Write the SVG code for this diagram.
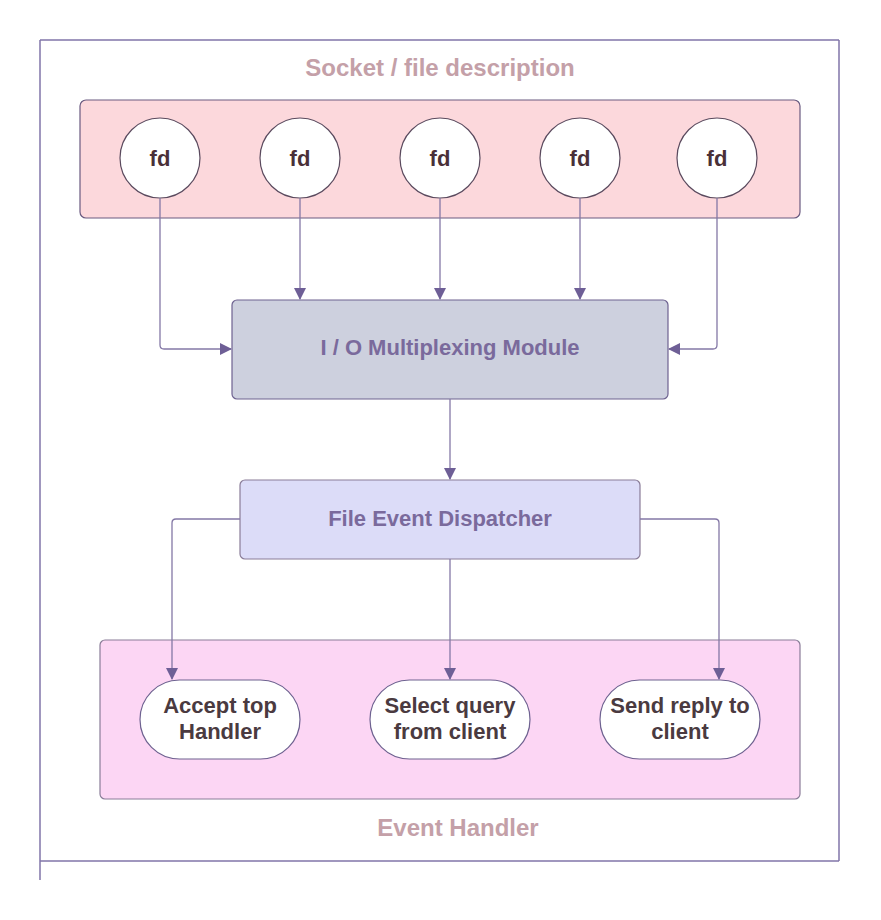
<svg xmlns="http://www.w3.org/2000/svg" width="881" height="920" viewBox="0 0 881 920">
<defs>
<marker id="ah" viewBox="0 0 12 12" refX="11" refY="6" markerWidth="12" markerHeight="12" markerUnits="userSpaceOnUse" orient="auto">
<path d="M0,0 L12,6 L0,12 Z" fill="#6e5f96"/>
</marker>
<style>
.frame{fill:none;stroke:#8074a8;stroke-width:1.5}
.conn{fill:none;stroke:#8478a6;stroke-width:1.3;marker-end:url(#ah)}
.fd{fill:#ffffff;stroke:#5a4a5e;stroke-width:1.2}
.fdt{font-family:"Liberation Sans",Arial,sans-serif;font-weight:bold;font-size:22px;fill:#4a3038;text-anchor:middle}
.title{font-family:"Liberation Sans",Arial,sans-serif;font-weight:bold;font-size:24px;fill:#c4a0a8;text-anchor:middle}
.mod{font-family:"Liberation Sans",Arial,sans-serif;font-weight:bold;font-size:22px;fill:#7a6a9c;text-anchor:middle}
.h{fill:#ffffff;stroke:#6e6290;stroke-width:1.2}
.ht{font-family:"Liberation Sans",Arial,sans-serif;font-weight:bold;font-size:22px;fill:#4a3a40;text-anchor:middle}
</style>
</defs>
<rect width="881" height="920" fill="#ffffff"/>
<g id="frame">
<line class="frame" x1="40" y1="40" x2="839" y2="40"/>
<line class="frame" x1="40" y1="40" x2="40" y2="880"/>
<line class="frame" x1="839" y1="40" x2="839" y2="861"/>
<line class="frame" x1="40" y1="861" x2="839" y2="861"/>
</g>
<g id="socket-group">
<rect x="80" y="100" width="720" height="118" rx="6" fill="#fcd8dc" stroke="#6a5a80" stroke-width="1.2"/>
<text class="title" x="440" y="76">Socket / file description</text>
</g>
<g id="fd1"><circle class="fd" cx="160" cy="158" r="40"/><text class="fdt" x="160" y="166">fd</text></g>
<g id="fd2"><circle class="fd" cx="300" cy="158" r="40"/><text class="fdt" x="300" y="166">fd</text></g>
<g id="fd3"><circle class="fd" cx="440" cy="158" r="40"/><text class="fdt" x="440" y="166">fd</text></g>
<g id="fd4"><circle class="fd" cx="580" cy="158" r="40"/><text class="fdt" x="580" y="166">fd</text></g>
<g id="fd5"><circle class="fd" cx="717" cy="158" r="40"/><text class="fdt" x="717" y="166">fd</text></g>
<g id="io-module">
<rect x="232" y="300" width="436" height="99" rx="5" fill="#cdd0de" stroke="#6e6290" stroke-width="1.2"/>
<text class="mod" x="450" y="355">I / O Multiplexing Module</text>
</g>
<g id="dispatcher">
<rect x="240" y="480" width="400" height="79" rx="5" fill="#dcdcf8" stroke="#8a7c98" stroke-width="1.2"/>
<text class="mod" x="440" y="526">File Event Dispatcher</text>
</g>
<g id="event-handler-group">
<rect x="100" y="640" width="700" height="159" rx="5" fill="#fcd6f4" stroke="#8a7c98" stroke-width="1.2"/>
<text class="title" x="458" y="836">Event Handler</text>
</g>
<g id="accept"><rect class="h" x="140" y="680" width="160" height="79" rx="39.5"/><text class="ht" x="220" y="713">Accept top</text><text class="ht" x="220" y="739">Handler</text></g>
<g id="select"><rect class="h" x="370" y="680" width="160" height="79" rx="39.5"/><text class="ht" x="450" y="713">Select query</text><text class="ht" x="450" y="739">from client</text></g>
<g id="send"><rect class="h" x="600" y="680" width="160" height="79" rx="39.5"/><text class="ht" x="680" y="713">Send reply to</text><text class="ht" x="680" y="739">client</text></g>
<g id="connectors">
<path class="conn" d="M160,198 V345 Q160,349 164,349 H231"/>
<path class="conn" d="M300,198 V299"/>
<path class="conn" d="M440,198 V299"/>
<path class="conn" d="M580,198 V299"/>
<path class="conn" d="M717,198 V345 Q717,349 713,349 H669"/>
<path class="conn" d="M450,399 V479"/>
<path class="conn" d="M240,519 H176 Q172,519 172,523 V679"/>
<path class="conn" d="M450,559 V679"/>
<path class="conn" d="M640,519 H715 Q719,519 719,523 V679"/>
</g>
</svg>
